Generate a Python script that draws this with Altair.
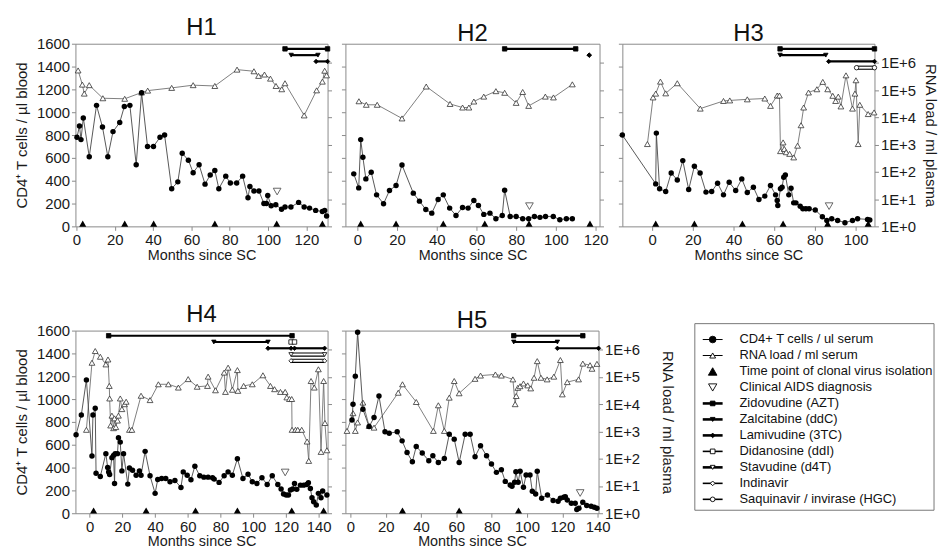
import altair as alt
import pandas as pd

FONT = "Liberation Sans"

# ---------------- data ----------------
# H1
h1_cd4_month = [0.3,1.6,2.4,3.6,6.7,10.5,13.6,16.4,19.1,22.6,25.0,27.9,31.2,34.0,37.1,40.2,43.6,46.0,49.7,52.9,55.2,58.4,60.9,64.0,67.1,69.8,72.2,74.3,77.9,80.3,83.6,86.7,89.5,90.5,92.6,95.2,97.8,99.1,99.8,101.6,104.0,107.0,108.8,111.9,115.9,118.8,121.6,124.8,128.3,129.5,130.5]
h1_cd4_value = [780,880,760,950,610,1060,870,610,830,910,1050,1060,540,1170,700,700,780,800,330,390,640,580,470,540,370,450,490,330,440,380,380,440,250,350,310,310,200,200,270,180,190,150,170,170,210,170,160,140,130,140,90]
h1_rna_month = [0.9,3.1,4.1,6.7,13.8,25.2,34.0,37.2,49.7,60.9,72.2,83.8,92.6,95.0,98.1,101.2,104.1,107.1,108.8,118.8,125.3,128.3,129.5,130.5]
h1_rna_log10 = [5.72,5.20,4.87,5.18,4.70,4.68,4.91,4.98,5.08,5.18,5.15,5.75,5.69,5.52,5.57,5.42,5.15,5.03,5.25,4.07,4.99,5.31,5.71,5.54]
h1_isolation = [3.3,25.2,40.3,72.2,104.5,128.3]
h1_aids = [104.7, 305]
h1_xdomain = [-0.5, 131]
h1_xticks = [0,20,40,60,80,100,120]

# H2
h2_cd4_month = [-1.8,0.7,1.7,2.8,4.3,7.0,9.7,13.2,16.2,19.5,22.5,28.2,31.3,34.5,37.5,40.7,43.3,46.5,49.7,53.0,55.8,58.7,61.0,63.7,66.8,69.8,73.0,74.2,77.0,80.0,83.3,86.3,89.2,92.0,94.8,98.7,102.0,105.3,108.3]
h2_cd4_value = [460,337,760,605,416,474,276,198,314,358,538,291,221,148,116,236,276,160,96,166,160,227,183,105,116,67,96,317,87,87,67,67,87,79,87,87,58,67,67]
h2_rna_month = [0.8,4.5,10.0,22.5,34.7,46.7,53.0,56.2,58.7,63.7,69.8,74.2,80.0,83.3,86.3,94.7,98.8,108.3]
h2_rna_log10 = [4.59,4.46,4.46,3.96,5.13,4.49,4.36,4.36,4.58,4.76,4.96,4.90,4.53,4.93,4.42,4.76,4.73,5.21]
h2_isolation = [1.7,19.5,43.3,64.2,86.5,117.2]
h2_aids = [86.7, 177]
h2_xdomain = [-6, 122]
h2_xticks = [0,20,40,60,80,100,120]

# H3
h3_cd4_month = [-14.6,1.8,2.1,3.7,6.7,9.4,12.4,15.1,18.0,20.8,23.6,26.5,29.3,32.2,35.1,37.9,41.1,44.1,46.8,49.8,52.5,55.4,58.2,60.7,61.5,61.8,63.1,63.9,64.7,65.5,67.2,68.3,69.6,70.7,72.8,74.1,75.6,77.2,80.2,83.7,85.9,88.3,91.2,94.8,98.5,101.0,105.9,107.0]
h3_cd4_value = [800,372,817,329,305,468,407,576,323,527,468,300,305,378,276,387,314,416,297,343,236,265,358,276,227,183,329,343,430,451,276,334,206,206,177,154,154,154,143,84,52,67,52,32,52,67,61,55]
h3_rna_month = [-2.3,0.5,1.8,4.1,6.7,12.4,23.7,35.1,38.2,46.8,55.4,58.2,61.5,62.6,63.1,64.4,65.0,65.9,67.6,69.6,71.5,73.2,74.5,76.9,81.0,83.9,86.3,88.8,90.2,91.5,92.8,95.3,98.5,99.7,100.2,101.3,102.1,106.2,109.1]
h3_rna_log10 = [3.02,4.73,4.87,5.31,4.88,5.25,4.32,4.60,4.62,4.66,4.69,4.42,4.80,4.80,2.76,3.08,2.84,2.72,2.66,2.53,2.96,3.71,4.36,4.91,5.03,5.30,5.03,4.79,4.60,4.76,4.40,5.54,4.32,4.87,5.36,3.02,4.46,4.12,4.18]
h3_isolation = [1.8,20.8,44.4,64.4,86.3,106.2]
h3_aids = [87.0, 177]
h3_xdomain = [-14.6, 109.3]
h3_xticks = [0,20,40,60,80,100]

# H4
h4_cd4_month = [-8.3,-5.1,-2.0,1.4,2.0,3.4,3.9,6.5,9.9,11.0,11.6,12.2,13.6,14.6,15.2,15.6,17.0,17.6,18.7,19.7,20.7,23.3,24.3,26.2,28.4,30.4,31.4,33.9,36.9,40.0,41.6,44.0,46.5,49.1,52.1,55.8,57.2,59.6,61.9,64.3,67.3,69.8,72.4,75.1,76.1,79.1,82.2,84.6,87.2,90.3,93.7,96.8,99.4,102.2,105.3,108.5,111.6,115.0,117.0,118.5,120.1,121.5,122.7,124.1,125.2,126.6,128.8,130.8,132.7,133.7,134.9,135.9,136.9,138.5,139.8,141.4,142.4,145.0]
h4_cd4_value = [687,861,1168,501,861,919,351,322,522,400,362,339,487,507,261,522,522,661,623,371,522,255,397,377,333,371,333,542,328,174,296,304,304,275,287,226,362,333,293,412,328,316,316,310,299,270,328,362,333,478,304,342,275,261,310,252,328,252,212,168,159,159,203,212,261,209,246,246,252,267,217,136,101,72,174,136,194,159]
h4_rna_month = [-2.0,1.4,3.4,6.5,9.9,11.2,12.0,12.2,12.8,13.6,14.6,15.2,16.0,17.0,17.6,18.7,19.7,21.3,22.3,24.3,25.8,31.4,36.9,42.0,48.1,54.2,60.2,65.7,72.0,72.4,76.9,82.2,83.0,84.6,87.2,90.3,90.6,94.1,99.4,105.9,110.5,113.0,116.6,119.5,120.5,122.1,123.5,123.7,125.8,127.2,129.6,132.9,133.9,135.3,137.3,139.8,141.4,143.0,143.8,145.0]
h4_rna_log10 = [3.06,5.52,5.95,5.74,5.46,5.64,4.67,4.21,3.22,3.58,3.12,3.48,3.16,3.40,3.58,4.21,3.82,4.00,4.09,3.06,3.06,4.31,4.15,4.73,4.73,4.61,4.92,4.64,4.67,5.01,4.51,5.16,4.45,5.34,4.53,5.25,4.49,4.67,4.73,5.06,4.67,4.55,4.45,4.45,4.25,4.19,4.19,3.06,3.06,3.06,3.06,2.63,1.92,4.85,4.61,5.28,2.25,4.85,3.31,2.31]
h4_isolation = [2.4,34.5,64.7,90.3,123.5,143.0]
h4_aids = [119.5, 357]
h4_xdomain = [-8.7, 145.4]
h4_xticks = [0,20,40,60,80,100,120,140]

# H5
h5_cd4_month = [0.9,1.5,2.8,4.1,7.1,10.6,13.4,16.2,19.6,22.0,26.5,29.3,32.1,35.1,37.3,40.7,44.4,46.7,49.8,53.2,56.0,58.8,61.6,65.0,67.8,70.6,73.7,77.1,79.9,82.7,85.5,87.7,90.5,91.5,93.0,93.7,95.0,96.1,98.0,99.5,101.7,103.0,104.9,105.8,108.3,111.6,114.8,117.6,118.9,120.8,121.7,122.8,125.1,127.3,128.2,129.4,131.6,133.8,136.3,138.1,139.6]
h5_cd4_value = [817,954,1201,1585,911,759,838,1027,713,701,713,634,532,451,585,527,460,503,445,480,692,649,445,692,692,495,591,503,431,358,381,279,247,236,271,364,271,367,227,335,335,192,169,367,131,160,111,105,131,140,145,116,87,87,32,44,96,67,61,52,44]
h5_rna_month = [-1.9,1.5,2.8,4.1,7.1,10.6,13.4,27.1,29.5,37.3,47.0,49.8,53.2,56.0,58.8,61.6,70.6,73.7,82.1,85.5,92.0,93.3,93.9,94.8,96.1,98.0,100.4,102.1,104.0,105.8,107.9,111.4,115.2,118.9,120.0,122.8,129.2,131.6,135.7,136.8,139.6]
h5_rna_log10 = [3.02,3.67,3.02,3.33,4.06,3.20,3.14,4.42,4.73,4.08,3.02,3.96,3.02,4.24,4.85,4.40,4.93,5.05,5.09,5.05,4.91,4.00,4.30,4.60,4.66,4.76,4.69,4.58,4.97,5.58,4.97,4.91,5.01,5.62,4.36,4.81,4.91,5.49,5.43,5.30,5.48]
h5_isolation = [29.5,61.6,95.2]
h5_aids = [130.1, 177]
h5_xdomain = [-2.8, 140.5]
h5_xticks = [0,20,40,60,80,100,120,140]

# therapy periods (months since SC); lane = which row of bars it sits in
ther_patient = ["H1","H1","H1","H2","H2","H3","H3","H3","H3","H4","H4","H4","H4","H4","H4","H4","H5","H5","H5"]
ther_drug    = ["AZT","ddC","3TC","AZT","3TC","AZT","ddC","3TC","SQV","AZT","ddC","3TC","3TC","ddI","d4T","IDV","AZT","ddC","3TC"]
ther_start   = [108.8,112.0,125.0,74.2,116.8,62.9,62.9,86.8,100.5,11.6,75.9,109.0,125.2,123.1,123.1,123.1,92.5,92.5,117.2]
ther_end     = [131.0,126.0,131.0,110.0,116.8,109.3,85.4,109.3,109.3,123.7,109.0,123.1,143.6,125.2,143.6,143.6,131.6,117.2,140.5]
ther_lane    = [0,1,2,0,1,0,1,2,3,0,1,2,2,1,3,4,0,1,2]

legend_labels = ["CD4+ T cells / ul serum", "RNA load / ml serum", "Time point of clonal virus isolation",
                 "Clinical AIDS diagnosis", "Zidovudine (AZT)", "Zalcitabine (ddC)", "Lamivudine (3TC)",
                 "Didanosine (ddI)", "Stavudine (d4T)", "Indinavir", "Saquinavir / invirase (HGC)"]
legend_keys = ["cd4", "rna", "iso", "aids", "AZT", "ddC", "3TC", "ddI", "d4T", "IDV", "SQV"]

# ---------------- styles ----------------
SHAPE = {"AZT": "square", "ddC": "triangle-down", "3TC": "diamond", "ddI": "square",
         "d4T": "triangle-down", "IDV": "diamond", "SQV": "circle"}
FILLED = {"AZT", "ddC", "3TC"}
W, H = 254, 184
AX = "#8a8a8a"

PANELS = {
    "H1": (h1_cd4_month, h1_cd4_value, h1_rna_month, h1_rna_log10, h1_isolation, h1_aids, h1_xdomain, h1_xticks),
    "H2": (h2_cd4_month, h2_cd4_value, h2_rna_month, h2_rna_log10, h2_isolation, h2_aids, h2_xdomain, h2_xticks),
    "H3": (h3_cd4_month, h3_cd4_value, h3_rna_month, h3_rna_log10, h3_isolation, h3_aids, h3_xdomain, h3_xticks),
    "H4": (h4_cd4_month, h4_cd4_value, h4_rna_month, h4_rna_log10, h4_isolation, h4_aids, h4_xdomain, h4_xticks),
    "H5": (h5_cd4_month, h5_cd4_value, h5_rna_month, h5_rna_log10, h5_isolation, h5_aids, h5_xdomain, h5_xticks),
}

ther = pd.DataFrame({"patient": ther_patient, "drug": ther_drug, "m": ther_start,
                     "m2": ther_end, "lane": ther_lane})
ther["v"] = 1555 - 55 * ther["lane"]
ther["shape"] = ther["drug"].map(SHAPE)
ther["fill"] = ther["drug"].map(lambda d: "black" if d in FILLED else "white")


def panel(name, show_left, show_right, width, rpad=7):
    cm, cv, rm, rl, iso, aids, xdom, xticks = PANELS[name]
    X = alt.X("m:Q", scale=alt.Scale(domain=xdom, nice=False, zero=False),
              axis=alt.Axis(values=xticks, title="Months since SC", labelPadding=2, titlePadding=1,
                            labelOverlap=False, labelFlush=False, labelFontSize=15, titleFontSize=14.5))
    lk = dict(values=list(range(0, 1601, 200)), orient="left", labels=show_left, format="d")
    if show_left:
        lk["title"] = "CD4⁺ T cells / µl blood"
        lk["titlePadding"] = 7
    else:
        lk["title"] = None
    YL = alt.Y("v:Q", scale=alt.Scale(domain=[0, 1600], nice=False), axis=alt.Axis(**lk))
    rk = dict(values=[0, 1, 2, 3, 4, 5, 6], orient="right", labels=show_right,
              labelExpr="'1E+' + datum.value")
    if show_right:
        rk["title"] = "RNA load / ml plasma"
        rk["titlePadding"] = rpad
    else:
        rk["title"] = None
    YR = alt.Y("lg:Q", scale=alt.Scale(domain=[0, 6.7], nice=False, zero=False), axis=alt.Axis(**rk))

    cd4 = pd.DataFrame({"m": cm, "v": cv})
    rna = pd.DataFrame({"m": rm, "lg": rl})
    isod = pd.DataFrame({"m": iso})
    isod["v"] = 24
    aidd = pd.DataFrame({"m": [aids[0]], "v": [aids[1]]})

    rna_line = alt.Chart(rna).mark_line(color="#707070", strokeWidth=0.9).encode(x=X, y=YR)
    rna_pts = alt.Chart(rna).mark_point(shape="triangle-up", filled=True, fill="white", stroke="#333",
                                        strokeWidth=0.8, size=34, opacity=1).encode(x=X, y=YR)

    parts = [
        alt.Chart(cd4).mark_line(color="#444", strokeWidth=0.9).encode(x=X, y=YL),
        alt.Chart(cd4).mark_circle(color="black", size=30, opacity=1).encode(x=X, y=YL),
        alt.Chart(isod).mark_point(shape="triangle-up", filled=True, color="black", size=50, opacity=1).encode(x=X, y=YL),
        alt.Chart(aidd).mark_point(shape="triangle-down", filled=True, fill="white", stroke="#555",
                                   strokeWidth=0.9, size=60, opacity=1).encode(x=X, y=YL),
    ]
    th = ther[ther.patient == name]
    thf = th[th.drug.isin(FILLED)]
    tho = th[~th.drug.isin(FILLED)]
    if len(thf):
        parts.append(alt.Chart(thf).mark_rule(color="black", strokeWidth=2.2)
                     .encode(x=X, x2=alt.X2("m2:Q"), y=YL))
    if len(tho):
        parts.append(alt.Chart(tho).mark_rule(color="black", strokeWidth=4.2)
                     .encode(x=X, x2=alt.X2("m2:Q"), y=YL))
        parts.append(alt.Chart(tho).mark_rule(color="white", strokeWidth=2.0)
                     .encode(x=X, x2=alt.X2("m2:Q"), y=YL))
    ends = pd.concat([th[["m", "v", "shape", "fill"]],
                      th[["m2", "v", "shape", "fill"]].rename(columns={"m2": "m"})])
    parts.append(alt.Chart(ends).mark_point(filled=True, stroke="black", strokeWidth=0.8, size=20, opacity=1)
                 .encode(x=X, y=YL, shape=alt.Shape("shape:N", scale=None),
                         fill=alt.Fill("fill:N", scale=None)))

    return (alt.layer(alt.layer(rna_line, rna_pts), alt.layer(*parts))
            .resolve_scale(y="independent")
            .properties(width=width, height=H,
                        title=alt.TitleParams(name, fontSize=24, font=FONT, fontWeight="normal",
                                              anchor="middle", offset=-3, color="#111")))


# ---------------- legend panel ----------------
LEG_W, LEG_H = 246, 184
leg = pd.DataFrame({"label": legend_labels, "key": legend_keys})
LINEW = {"cd4": 1.0, "rna": 1.0, "AZT": 2.6, "ddC": 2.6, "3TC": 2.6, "ddI": 1.6, "d4T": 2.6, "IDV": 1.6, "SQV": 1.6}
LSHAPE = {"cd4": "circle", "rna": "triangle-up", "iso": "triangle-up", "aids": "triangle-down", **SHAPE}
LFILL = {"cd4": "black", "rna": "white", "iso": "black", "aids": "white", "AZT": "black", "ddC": "black",
         "3TC": "black", "ddI": "white", "d4T": "white", "IDV": "white", "SQV": "white"}
LSIZE = {"cd4": 45, "rna": 35, "iso": 75, "aids": 70}
leg["lw"] = leg["key"].map(lambda k: LINEW.get(k, 0))
leg["shape"] = leg["key"].map(LSHAPE)
leg["fill"] = leg["key"].map(LFILL)
leg["size"] = leg["key"].map(lambda k: LSIZE.get(k, 22))

LY = alt.Y("label:N", sort=legend_labels, axis=None,
           scale=alt.Scale(type="point", range=[9, 170], padding=0))
BX = 11
box = alt.Chart(pd.DataFrame({"a": [0]})).mark_rect(fillOpacity=0, stroke="#777", strokeWidth=1).encode(
    x=alt.value(BX), x2=alt.value(LEG_W + 6), y=alt.value(-7), y2=alt.value(181))
leg_lines = alt.Chart(leg[leg.lw > 0]).mark_rule(color="black").encode(
    x=alt.value(BX + 8), x2=alt.value(BX + 28), y=LY, strokeWidth=alt.StrokeWidth("lw:Q", scale=None))
leg_pts = alt.Chart(leg).mark_point(filled=True, stroke="black", strokeWidth=0.9, opacity=1).encode(
    x=alt.value(BX + 18), y=LY, shape=alt.Shape("shape:N", scale=None), fill=alt.Fill("fill:N", scale=None),
    size=alt.Size("size:Q", scale=None))
leg_txt = alt.Chart(leg).mark_text(align="left", baseline="middle", font=FONT, fontSize=13, color="#111").encode(
    x=alt.value(BX + 45), y=LY, text="label:N")
legend = alt.layer(box, leg_lines, leg_pts, leg_txt).properties(
    width=LEG_W, height=LEG_H, view=alt.ViewBackground(stroke="transparent"))

row1 = alt.hconcat(panel("H1", True, False, W), panel("H2", False, False, W + 2),
                   panel("H3", False, True, W), spacing=8)
row2 = alt.hconcat(panel("H4", True, False, W), panel("H5", False, True, W + 1, rpad=20), legend, spacing=8)

chart = (alt.vconcat(row1, row2, spacing=40)
         .properties(padding={"left": 14, "top": 13, "right": 0, "bottom": 0})
         .configure_view(stroke=AX, strokeWidth=1)
         .configure_axis(labelFont=FONT, titleFont=FONT, labelFontSize=15, titleFontSize=15,
                         titleFontWeight="normal", labelColor="#1a1a1a", titleColor="#1a1a1a",
                         tickColor=AX, domain=False, grid=False, tickSize=4, labelPadding=2)
         .configure_title(font=FONT))

chart.save("out.html", embed_options={"renderer": "svg", "actions": False})
